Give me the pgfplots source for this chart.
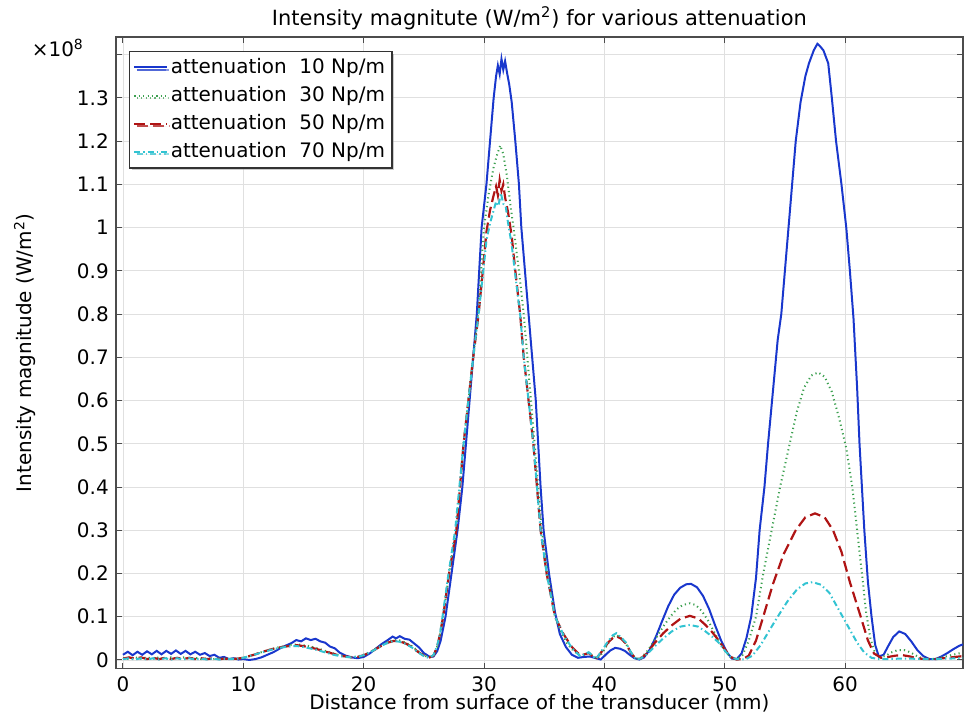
\documentclass[border=0pt]{standalone}
\usepackage{pgfplots}
\pgfplotsset{compat=1.18}
\usepackage{fontspec}
\setmainfont{DejaVu Sans}
\usetikzlibrary{shadows}
\definecolor{cblue}{RGB}{25,55,205}
\definecolor{cgreen}{RGB}{60,160,80}
\definecolor{cred}{RGB}{175,20,20}
\definecolor{ccyan}{RGB}{50,195,210}
\begin{document}
\begin{tikzpicture}
\begin{axis}[
  scale only axis, width=424.5pt, height=316.5pt,
  xmin=-0.6, xmax=69.8, ymin=-0.02, ymax=1.441,
  xtick={0,10,20,30,40,50,60},
  xticklabels={0,10,20,30,40,50,60},
  ytick={0,0.1,0.2,0.3,0.4,0.5,0.6,0.7,0.8,0.9,1.0,1.1,1.2,1.3,1.4},
  yticklabels={0,0.1,0.2,0.3,0.4,0.5,0.6,0.7,0.8,0.9,1,1.1,1.2,1.3,{}},
  font=\fontsize{10}{12}\selectfont,
  grid=major, grid style={black!12, line width=0.4pt},
  tick align=inside, major tick length=3pt,
  tick style={black!70, line width=0.5pt},
  axis line style={black!70, line width=0.8pt},
  xticklabel style={anchor=center, inner sep=0pt, yshift=-7.6pt},
  every axis title/.style={at={(0.5,1)}, anchor=center, yshift=9.5pt, font=\fontsize{10.5}{12}\selectfont},
  title={Intensity magnitute (W/m\textsuperscript{2}) for various attenuation},
  every axis x label/.style={at={(rel axis cs:0.5,0)}, anchor=center, inner sep=0pt, yshift=-17.1pt},
  xlabel={Distance from surface of the transducer (mm)},
  every axis y label/.style={at={(rel axis cs:0,0.5)}, anchor=center, rotate=90, yshift=45.5pt},
  ylabel={Intensity magnitude (W/m\textsuperscript{2})},
  legend style={at={(0.0153,0.978)}, anchor=north west, draw=black!80, line width=0.6pt,
    inner xsep=2pt, inner ysep=2pt, row sep=2pt,
    nodes={inner sep=1.5pt, line width=0.4pt},
    font=\fontsize{10}{12}\selectfont,
    drop shadow={shadow xshift=1.2pt, shadow yshift=-1.2pt, fill=black!40}},
  legend cell align=left,
  legend image code/.code={\draw[#1] (0pt,0pt) -- (14.5pt,0pt); \path (0pt,0pt) -- (16.2pt,0pt);},
]
\coordinate (bl) at (rel axis cs:0,0);
\coordinate (tr) at (rel axis cs:1,1);
\coordinate (tl) at (rel axis cs:0,1);
% 10 Np/m
\addplot[cblue, line width=1pt] coordinates {
(0,0.012)(0.4,0.019)(0.8,0.011)(1.2,0.019)(1.6,0.012)(2.0,0.020)(2.4,0.013)(2.8,0.021)(3.2,0.013)(3.6,0.021)
(4.0,0.014)(4.4,0.022)(4.8,0.014)(5.2,0.021)(5.6,0.013)(6.0,0.019)(6.4,0.012)(6.8,0.016)(7.2,0.009)(7.6,0.012)
(8.0,0.005)(8.4,0.007)(8.8,0.002)(9.2,0.004)(9.6,0.001)(10.0,0.002)(10.5,0.000)(11.0,0.002)(11.5,0.006)(12.0,0.012)
(12.5,0.018)(13.0,0.026)(13.5,0.033)(14.0,0.039)(14.4,0.046)(14.8,0.043)(15.2,0.050)(15.6,0.046)(16.0,0.049)(16.4,0.043)
(16.8,0.040)(17.2,0.031)(17.6,0.027)(18.0,0.017)(18.5,0.010)(19.0,0.006)(19.5,0.004)(20.0,0.007)(20.5,0.015)(21.0,0.026)
(21.5,0.037)(22.0,0.046)(22.4,0.054)(22.7,0.050)(23.0,0.055)(23.4,0.049)(23.8,0.047)(24.2,0.038)(24.6,0.029)(25.0,0.016)
(25.5,0.007)(25.8,0.008)(26.1,0.020)(26.4,0.045)(26.8,0.100)(27.3,0.200)(27.8,0.300)(28.2,0.400)(28.5,0.500)(28.8,0.600)
(29.1,0.700)(29.4,0.800)(29.6,0.900)(29.8,1.000)(30.2,1.100)(30.5,1.200)(30.8,1.300)(31.0,1.350)(31.15,1.375)(31.3,1.355)
(31.45,1.390)(31.6,1.365)(31.75,1.385)(31.9,1.360)(32.1,1.330)(32.3,1.290)(32.6,1.200)(32.9,1.100)(33.1,1.000)(33.4,0.900)
(33.7,0.800)(34.0,0.700)(34.3,0.600)(34.5,0.500)(34.7,0.400)(34.95,0.300)(35.4,0.200)(35.9,0.110)(36.3,0.060)(36.8,0.030)
(37.3,0.012)(37.8,0.005)(38.3,0.007)(38.8,0.008)(39.3,0.004)(39.7,0.001)(40.1,0.012)(40.5,0.022)(40.9,0.028)(41.3,0.026)
(41.7,0.021)(42.1,0.012)(42.5,0.004)(42.9,0.001)(43.3,0.006)(43.8,0.025)(44.3,0.055)(44.8,0.090)(45.3,0.124)(45.8,0.151)
(46.3,0.167)(46.8,0.175)(47.2,0.176)(47.7,0.168)(48.2,0.148)(48.7,0.118)(49.2,0.080)(49.7,0.045)(50.2,0.017)(50.6,0.003)
(51.0,0.002)(51.4,0.015)(51.8,0.050)(52.2,0.100)(52.6,0.190)(52.9,0.300)(53.3,0.400)(53.6,0.500)(54.0,0.620)(54.4,0.740)
(54.7,0.800)(55.0,0.900)(55.3,1.000)(55.6,1.100)(55.9,1.200)(56.3,1.290)(56.7,1.350)(57.0,1.380)(57.4,1.410)(57.7,1.425)
(57.9,1.420)(58.2,1.410)(58.6,1.380)(58.9,1.300)(59.25,1.200)(59.7,1.100)(60.1,1.000)(60.4,0.900)(60.7,0.790)(61.0,0.630)
(61.2,0.500)(61.6,0.300)(61.9,0.180)(62.2,0.100)(62.5,0.035)(62.8,0.008)(63.2,0.012)(63.6,0.033)(64.0,0.053)(64.5,0.066)
(65.0,0.060)(65.5,0.043)(66.0,0.023)(66.5,0.009)(67.0,0.002)(67.5,0.002)(68.0,0.008)(68.5,0.016)(69.0,0.025)(69.5,0.033)
(69.8,0.036)
};
\addlegendentry{attenuation\ \ 10 Np/m}
% 30 Np/m
\addplot[cgreen, line width=1pt, dash pattern=on 0.6pt off 1.6pt] coordinates {
(0,0.004)(0.5,0.002)(1.0,0.006)(1.5,0.003)(2.0,0.006)(2.5,0.003)(3.0,0.006)(3.5,0.003)(4.0,0.006)(4.5,0.003)
(5.0,0.006)(5.5,0.003)(6.0,0.005)(6.5,0.002)(7.0,0.004)(7.5,0.002)(8.0,0.004)(8.5,0.002)(9.0,0.003)(9.5,0.003)
(10.0,0.005)(10.5,0.009)(11.0,0.013)(11.5,0.018)(12.0,0.022)(12.5,0.026)(13.0,0.030)(13.5,0.032)(14.0,0.035)(14.5,0.036)
(15.0,0.034)(15.5,0.032)(16.0,0.028)(16.5,0.024)(17.0,0.019)(17.5,0.015)(18.0,0.011)(18.5,0.008)(19.0,0.007)(19.5,0.008)
(20.0,0.012)(20.5,0.018)(21.0,0.026)(21.5,0.034)(22.0,0.041)(22.5,0.046)(23.0,0.045)(23.5,0.040)(24.0,0.032)(24.5,0.021)
(25.0,0.011)(25.4,0.006)(25.8,0.010)(26.1,0.030)(26.35,0.060)(26.6,0.100)(27.1,0.200)(27.7,0.300)(28.0,0.400)(28.3,0.500)
(28.7,0.600)(29.1,0.700)(29.5,0.800)(29.75,0.900)(30.0,1.000)(30.4,1.080)(30.8,1.140)(31.1,1.170)(31.35,1.190)(31.6,1.170)
(31.9,1.120)(32.2,1.050)(32.45,1.000)(32.9,0.900)(33.3,0.800)(33.6,0.700)(33.9,0.600)(34.2,0.500)(34.5,0.400)(34.8,0.300)
(35.3,0.200)(35.9,0.100)(36.4,0.065)(36.9,0.038)(37.4,0.022)(37.9,0.012)(38.3,0.012)(38.7,0.017)(39.1,0.008)(39.4,0.003)
(39.8,0.015)(40.3,0.038)(40.7,0.053)(41.0,0.058)(41.4,0.050)(41.8,0.037)(42.2,0.017)(42.6,0.003)(43.0,0.004)(43.5,0.018)
(44.0,0.038)(44.5,0.060)(45.0,0.082)(45.5,0.101)(46.0,0.117)(46.5,0.127)(47.1,0.131)(47.6,0.127)(48.1,0.113)(48.6,0.092)
(49.1,0.066)(49.6,0.040)(50.1,0.018)(50.6,0.004)(51.0,0.001)(51.5,0.012)(52.0,0.045)(52.6,0.100)(53.2,0.200)(53.9,0.300)
(54.6,0.400)(55.4,0.500)(56.0,0.575)(56.6,0.630)(57.2,0.658)(57.76,0.665)(58.3,0.655)(58.9,0.620)(59.5,0.560)(60.1,0.490)
(60.6,0.400)(61.0,0.300)(61.4,0.200)(61.75,0.110)(62.1,0.050)(62.5,0.015)(62.9,0.006)(63.4,0.010)(63.9,0.018)(64.4,0.023)
(64.9,0.023)(65.4,0.018)(65.9,0.010)(66.4,0.004)(67.0,0.002)(67.6,0.003)(68.2,0.007)(68.8,0.011)(69.4,0.015)(69.8,0.016)
};
\addlegendentry{attenuation\ \ 30 Np/m}
% 50 Np/m
\addplot[cred, line width=1.1pt, dash pattern=on 5.5pt off 2.5pt] coordinates {
(0,0.003)(0.5,0.006)(1.0,0.003)(1.5,0.006)(2.0,0.002)(2.5,0.005)(3.0,0.002)(3.5,0.005)(4.0,0.002)(4.5,0.005)
(5.0,0.002)(5.5,0.005)(6.0,0.002)(6.5,0.004)(7.0,0.002)(7.5,0.004)(8.0,0.002)(8.5,0.003)(9.0,0.002)(9.5,0.003)
(10.0,0.005)(10.5,0.009)(11.0,0.013)(11.5,0.018)(12.0,0.022)(12.5,0.026)(13.0,0.029)(13.5,0.031)(14.0,0.033)(14.5,0.034)
(15.0,0.032)(15.5,0.029)(16.0,0.026)(16.5,0.022)(17.0,0.018)(17.5,0.014)(18.0,0.010)(18.5,0.008)(19.0,0.006)(19.5,0.007)
(20.0,0.011)(20.5,0.017)(21.0,0.025)(21.5,0.033)(22.0,0.040)(22.5,0.044)(23.0,0.043)(23.5,0.038)(24.0,0.030)(24.5,0.019)
(25.0,0.010)(25.4,0.005)(25.8,0.010)(26.1,0.030)(26.35,0.060)(26.6,0.100)(27.1,0.200)(27.7,0.300)(28.0,0.400)(28.3,0.500)
(28.7,0.600)(29.1,0.700)(29.55,0.800)(29.9,0.900)(30.2,0.990)(30.5,1.040)(30.8,1.075)(31.0,1.095)(31.15,1.075)(31.3,1.110)
(31.45,1.085)(31.6,1.100)(31.75,1.070)(32.0,1.035)(32.3,0.980)(32.6,0.900)(33.0,0.800)(33.3,0.700)(33.7,0.600)(34.1,0.500)
(34.4,0.400)(34.7,0.300)(35.2,0.200)(35.9,0.100)(36.6,0.060)(37.3,0.030)(38.0,0.010)(38.7,0.016)(39.3,0.002)(39.8,0.020)
(40.3,0.040)(40.7,0.051)(41.0,0.055)(41.4,0.049)(41.8,0.038)(42.2,0.017)(42.6,0.002)(43.0,0.003)(43.5,0.014)(44.2,0.040)
(44.9,0.062)(45.6,0.080)(46.3,0.095)(47.1,0.102)(47.8,0.096)(48.4,0.081)(49.0,0.063)(49.5,0.045)(50.0,0.025)(50.5,0.007)
(51.0,0.001)(51.5,0.002)(52.0,0.010)(52.6,0.045)(53.2,0.100)(54.0,0.175)(54.9,0.245)(55.9,0.300)(56.7,0.330)(57.5,0.339)
(58.3,0.330)(59.0,0.300)(59.7,0.250)(60.4,0.180)(61.3,0.100)(61.9,0.045)(62.4,0.015)(63.0,0.005)(63.6,0.007)(64.2,0.010)
(64.8,0.011)(65.4,0.008)(66.0,0.004)(66.6,0.002)(67.5,0.002)(68.5,0.005)(69.5,0.008)(69.8,0.009)
};
\addlegendentry{attenuation\ \ 50 Np/m}
% 70 Np/m
\addplot[ccyan, line width=1pt, dash pattern=on 3pt off 1.5pt on 0.7pt off 1.5pt] coordinates {
(0,0.002)(0.5,0.004)(1.0,0.001)(1.5,0.004)(2.0,0.001)(2.5,0.004)(3.0,0.001)(3.5,0.004)(4.0,0.001)(4.5,0.004)
(5.0,0.001)(5.5,0.004)(6.0,0.001)(6.5,0.003)(7.0,0.001)(7.5,0.003)(8.0,0.001)(8.5,0.003)(9.0,0.002)(9.5,0.003)
(10.0,0.005)(10.5,0.009)(11.0,0.013)(11.5,0.017)(12.0,0.021)(12.5,0.025)(13.0,0.028)(13.5,0.030)(14.0,0.032)(14.5,0.032)
(15.0,0.030)(15.5,0.027)(16.0,0.024)(16.5,0.020)(17.0,0.016)(17.5,0.012)(18.0,0.009)(18.5,0.007)(19.0,0.006)(19.5,0.007)
(20.0,0.011)(20.5,0.017)(21.0,0.025)(21.5,0.033)(22.0,0.040)(22.5,0.044)(23.0,0.042)(23.5,0.037)(24.0,0.029)(24.5,0.018)
(25.0,0.009)(25.4,0.005)(25.8,0.011)(26.1,0.032)(26.35,0.062)(26.55,0.100)(27.05,0.200)(27.6,0.300)(27.95,0.400)(28.3,0.500)
(28.7,0.600)(29.1,0.700)(29.55,0.800)(29.9,0.890)(30.2,0.970)(30.5,1.010)(30.8,1.040)(31.0,1.060)(31.2,1.050)(31.4,1.080)
(31.6,1.055)(31.8,1.050)(32.0,1.010)(32.3,0.960)(32.6,0.890)(33.0,0.800)(33.3,0.700)(33.7,0.600)(34.1,0.500)(34.4,0.400)
(34.7,0.300)(35.2,0.200)(35.9,0.100)(36.6,0.058)(37.3,0.028)(38.0,0.008)(38.7,0.018)(39.3,0.002)(39.8,0.022)(40.3,0.043)
(40.7,0.057)(41.0,0.062)(41.4,0.052)(41.8,0.040)(42.2,0.018)(42.6,0.002)(43.0,0.003)(43.5,0.012)(44.2,0.032)(44.9,0.050)
(45.6,0.066)(46.3,0.077)(47.1,0.081)(47.8,0.077)(48.4,0.066)(49.0,0.053)(49.5,0.040)(50.0,0.022)(50.5,0.006)(51.0,0.002)
(51.7,0.001)(52.3,0.010)(53.0,0.035)(53.7,0.068)(54.4,0.100)(55.2,0.135)(56.0,0.163)(56.7,0.177)(57.3,0.180)(58.0,0.174)
(58.7,0.155)(59.3,0.125)(59.8,0.100)(60.4,0.070)(61.0,0.040)(61.6,0.017)(62.2,0.005)(62.8,0.002)(63.5,0.002)(64.5,0.003)
(65.5,0.003)(66.5,0.002)(67.5,0.002)(68.5,0.003)(69.5,0.004)(69.8,0.004)
};
\addlegendentry{attenuation\ \ 70 Np/m}
\end{axis}
\node[font=\fontsize{10}{12}\selectfont] at ([xshift=-29pt,yshift=-5.5pt]tl) {×10\textsuperscript{8}};
\pgfresetboundingbox
\path[use as bounding box] ([xshift=-58pt,yshift=-22.2pt]bl) rectangle ([xshift=0.5pt,yshift=18.5pt]tr);
\end{tikzpicture}
\end{document}
